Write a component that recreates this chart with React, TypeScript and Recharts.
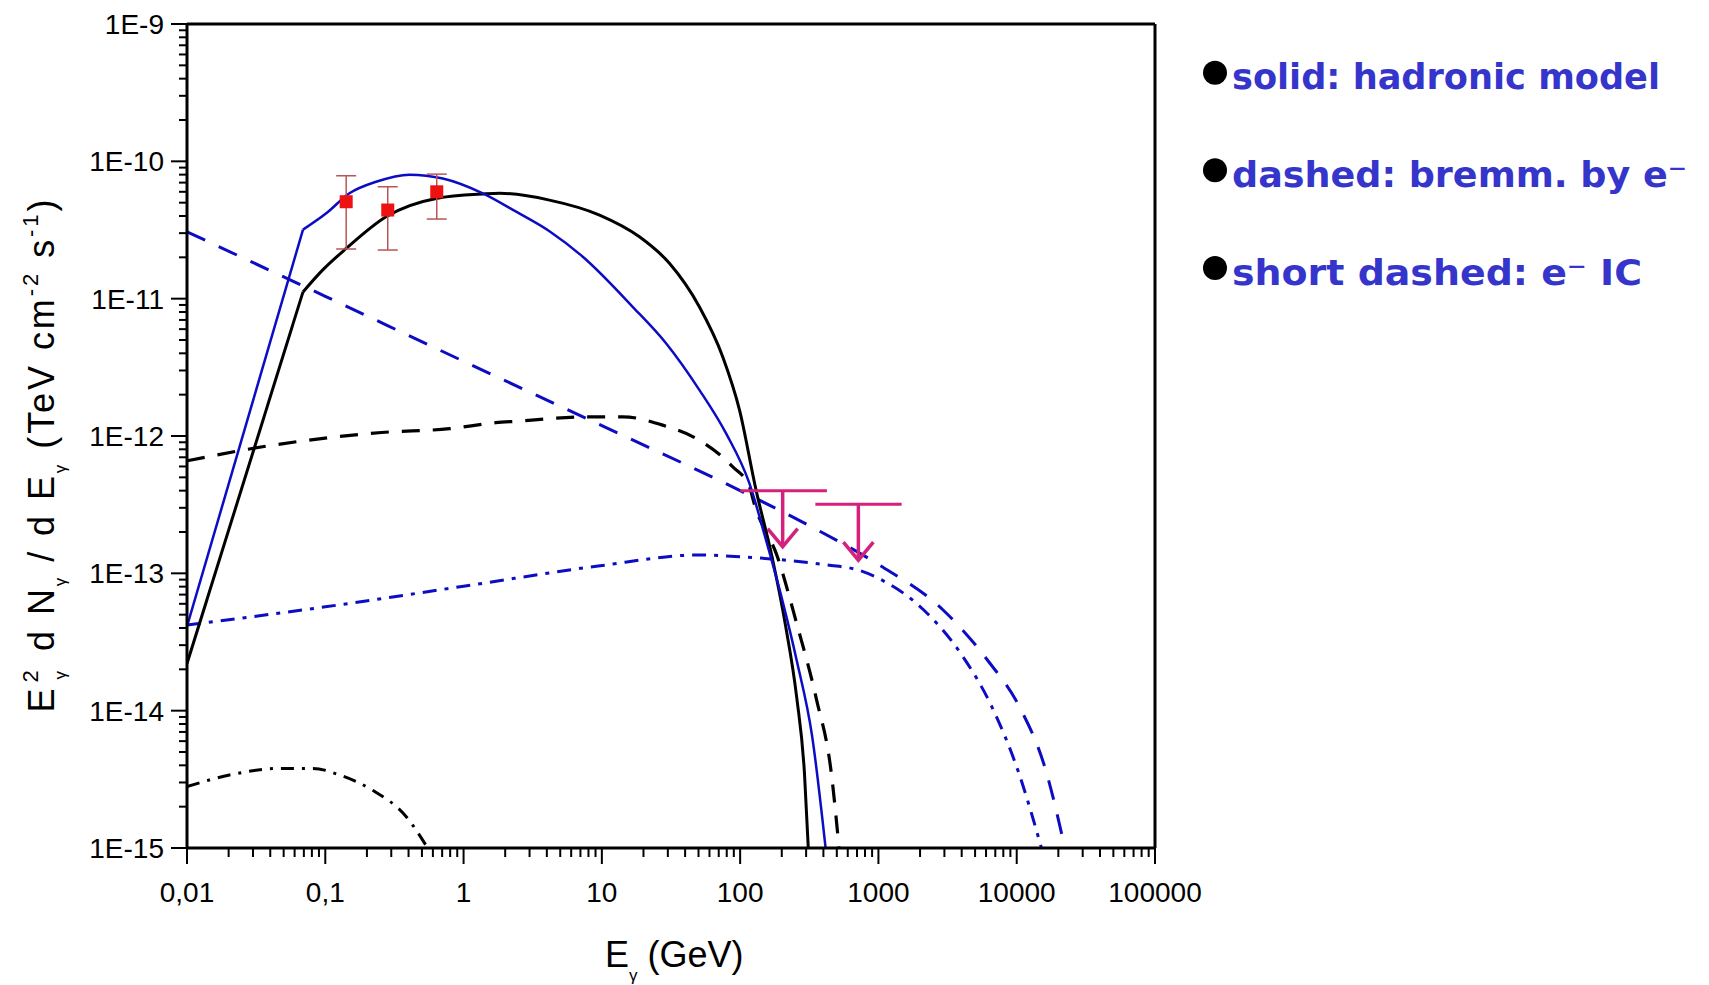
import React from "react";
import {
  ComposedChart,
  Line,
  Scatter,
  ErrorBar,
  XAxis,
  YAxis,
  ReferenceLine,
} from "recharts";

// energies in GeV, fluxes E^2 dN/dE in TeV cm^-2 s^-1

// hadronic model, black solid
const hadronicAE = [0.01, 0.069, 0.0959, 0.1416, 0.275, 0.634, 1.377, 1.82, 4.18, 9.62, 18.7, 30.8, 50.8, 74.8, 98.9, 130.6, 170, 212, 257, 292, 311];
const hadronicAFlux = [2.2e-14, 1.12e-11, 1.62e-11, 2.32e-11, 3.95e-11, 5.37e-11, 5.78e-11, 5.85e-11, 5.22e-11, 4.06e-11, 2.82e-11, 1.81e-11, 8.7e-12, 3.78e-12, 1.55e-12, 4.0e-13, 1.32e-13, 4.27e-14, 1.23e-14, 3.47e-15, 1e-15];

// hadronic model, blue solid
const hadronicBE = [0.01, 0.069, 0.1016, 0.1496, 0.2333, 0.4064, 0.708, 1.377, 2.4, 4.18, 7.28, 16.7, 29.2, 50.8, 79.3, 116.7, 155, 200, 257, 331, 415];
const hadronicBFlux = [4.1e-14, 3.18e-11, 4.18e-11, 5.85e-11, 7.1e-11, 8.0e-11, 7.5e-11, 5.85e-11, 4.3e-11, 3.1e-11, 2.02e-11, 8.73e-12, 4.72e-12, 2.16e-12, 1.04e-12, 4.52e-13, 1.7e-13, 6.6e-14, 2.3e-14, 6.6e-15, 1e-15];

// bremsstrahlung, black dashed
const bremAE = [0.01, 0.038, 0.255, 0.79, 1.71, 2.4, 8.1, 14.2, 27.5, 50.8, 88.3, 116.7, 127, 186, 257, 355, 457, 519];
const bremAFlux = [6.6e-13, 8.45e-13, 1.06e-12, 1.13e-12, 1.25e-12, 1.28e-12, 1.38e-12, 1.38e-12, 1.2e-12, 9.3e-13, 5.97e-13, 4.27e-13, 3.16e-13, 1.32e-13, 4.27e-14, 1.23e-14, 3.47e-15, 1e-15];

// bremsstrahlung, blue dashed
const bremBE = [0.01, 0.1, 1, 10, 100, 331, 1000, 2884, 6237, 10400, 16200, 22300];
const bremBFlux = [3.07e-11, 1.04e-11, 3.5e-12, 1.19e-12, 4.0e-13, 2.17e-13, 1.16e-13, 5.5e-14, 2.29e-14, 1.08e-14, 3.7e-15, 1e-15];

// inverse Compton, blue dash-dot
const icBE = [0.01, 0.1, 1, 9.4, 50, 100, 427, 708, 1000, 2090, 3980, 6600, 10400, 15100];
const icBFlux = [4.2e-14, 5.7e-14, 8.05e-14, 1.13e-13, 1.36e-13, 1.32e-13, 1.15e-13, 1.06e-13, 9.2e-14, 5.5e-14, 2.57e-14, 1.07e-14, 3.47e-15, 1e-15];

// inverse Compton, black dash-dot
const icAE = [0.01, 0.0203, 0.0467, 0.0813, 0.127, 0.22, 0.385, 0.55];
const icAFlux = [2.8e-15, 3.4e-15, 3.8e-15, 3.8e-15, 3.4e-15, 2.63e-15, 1.69e-15, 1e-15];

// measured points with 1 sigma range
const pointsE = [0.1416, 0.283, 0.64];
const pointsFlux = [5.08e-11, 4.42e-11, 6.0e-11];
const pointsHigh = [7.85e-11, 6.53e-11, 8.07e-11];
const pointsLow = [2.3e-11, 2.26e-11, 3.8e-11];

// upper limits with energy bins
const limitE = [203, 716];
const limitFlux = [4.0e-13, 3.19e-13];
const limitEMin = [100, 350];
const limitEMax = [424, 1472];

const xMajorTicks = [0.01, 0.1, 1, 10, 100, 1000, 10000, 100000];
const xTickLabels = ["0,01", "0,1", "1", "10", "100", "1000", "10000", "100000"];
const yMajorTicks = [1e-15, 1e-14, 1e-13, 1e-12, 1e-11, 1e-10, 1e-9];
const yTickLabels = ["1E-15", "1E-14", "1E-13", "1E-12", "1E-11", "1E-10", "1E-9"];

const legendRows = [
  { text: "solid: hadronic model", width: 428 },
  { text: "dashed: bremm. by e⁻", width: 455 },
  { text: "short dashed: e⁻ IC", width: 410 },
];

const BLUE = "#0c0cc4";
const LIMIT = "#d4217c";
const AXIS_FONT = "Arial, 'Liberation Sans', sans-serif";

const toRows = (es: number[], fs: number[]) => es.map((e, i) => ({ e, f: fs[i] }));

const withMinors = (majors: number[]) => {
  const out: number[] = [];
  majors.forEach((m, i) => {
    out.push(m);
    if (i < majors.length - 1) for (let k = 2; k <= 9; k++) out.push(m * k);
  });
  return out;
};

const xTicks = withMinors(xMajorTicks);
const yTicks = withMinors(yMajorTicks);

const majorIndex = (majors: number[], v: number) =>
  majors.findIndex((m) => Math.abs(Math.log10(m) - Math.log10(v)) < 1e-6);

const hadronicA = toRows(hadronicAE, hadronicAFlux);
const hadronicB = toRows(hadronicBE, hadronicBFlux);
const bremA = toRows(bremAE, bremAFlux);
const bremB = toRows(bremBE, bremBFlux);
const icA = toRows(icAE, icAFlux);
const icB = toRows(icBE, icBFlux);

// the solid curves rise in a straight line up to a sharp kink, then bend smoothly
const KINK = 1;

const points = pointsE.map((e, i) => ({
  e,
  f: pointsFlux[i],
  err: [pointsFlux[i] - pointsLow[i], pointsHigh[i] - pointsFlux[i]],
}));

const limits = limitE.map((e, i) => ({
  e,
  f: limitFlux[i],
  ex: [e - limitEMin[i], limitEMax[i] - e],
}));

const XTick = (props: any) => {
  const { x, y, payload } = props;
  const idx = majorIndex(xMajorTicks, payload.value);
  const major = idx >= 0;
  return (
    <g>
      <line x1={x} x2={x} y1={y} y2={y + (major ? 16 : 9)} stroke="#000" strokeWidth={2} />
      {major && (
        <text x={x} y={y + 54} textAnchor="middle" fontSize={28} fontFamily={AXIS_FONT} fill="#000">
          {xTickLabels[idx]}
        </text>
      )}
    </g>
  );
};

const YTick = (props: any) => {
  const { x, y, payload } = props;
  const idx = majorIndex(yMajorTicks, payload.value);
  const major = idx >= 0;
  return (
    <g>
      <line x1={x} x2={x - (major ? 16 : 8)} y1={y} y2={y} stroke="#000" strokeWidth={2} />
      {major && (
        <text x={x - 23} y={y + 10} textAnchor="end" fontSize={28} fontFamily={AXIS_FONT} fill="#000">
          {yTickLabels[idx]}
        </text>
      )}
    </g>
  );
};

const PointMarker = (props: any) => (
  <rect x={props.cx - 6.5} y={props.cy - 6.5} width={13} height={13} fill="#ee1111" />
);

// downward arrow hanging from each upper limit
const LimitArrow = (props: any) => {
  const { cx, cy } = props;
  return (
    <g stroke={LIMIT} strokeWidth={3.5} fill="none">
      <line x1={cx} y1={cy} x2={cx} y2={cy + 56} />
      <polyline points={`${cx - 15},${cy + 38} ${cx},${cy + 56} ${cx + 15},${cy + 38}`} />
    </g>
  );
};

export default function App() {
  return (
    <div style={{ position: "absolute", left: 0, top: 0, width: 1709, height: 985, background: "#fff" }}>
      <ComposedChart width={1709} height={985} margin={{ top: 24, right: 554, bottom: 0, left: 0 }}>
        <XAxis
          type="number"
          dataKey="e"
          scale="log"
          domain={[0.01, 100000]}
          allowDataOverflow
          ticks={xTicks}
          interval={0}
          tick={XTick}
          tickLine={false}
          tickSize={0}
          tickMargin={0}
          axisLine={{ stroke: "#000", strokeWidth: 3 }}
          height={137}
        />
        <YAxis
          type="number"
          dataKey="f"
          scale="log"
          domain={[1e-15, 1e-9]}
          allowDataOverflow
          ticks={yTicks}
          interval={0}
          tick={YTick}
          tickLine={false}
          tickSize={0}
          tickMargin={0}
          axisLine={{ stroke: "#000", strokeWidth: 3 }}
          width={187}
        />
        {/* closing frame on top and right */}
        <ReferenceLine y={1e-9} stroke="#000" strokeWidth={3} />
        <ReferenceLine x={100000} stroke="#000" strokeWidth={3} />

        <Line data={icA} dataKey="f" type="monotone" dot={false} stroke="#000" strokeWidth={3} strokeDasharray="13 8 3 8" isAnimationActive={false} />
        <Line data={icB} dataKey="f" type="monotone" dot={false} stroke={BLUE} strokeWidth={3} strokeDasharray="14 8 4 8" isAnimationActive={false} />
        <Line data={bremA} dataKey="f" type="monotone" dot={false} stroke="#000" strokeWidth={3.2} strokeDasharray="18 13" isAnimationActive={false} />
        <Line data={bremB} dataKey="f" type="monotone" dot={false} stroke={BLUE} strokeWidth={3} strokeDasharray="20 15" isAnimationActive={false} />

        <Line data={hadronicA.slice(0, KINK + 1)} dataKey="f" type="linear" dot={false} stroke="#000" strokeWidth={3} isAnimationActive={false} />
        <Line data={hadronicA.slice(KINK)} dataKey="f" type="monotone" dot={false} stroke="#000" strokeWidth={3} isAnimationActive={false} />
        <Line data={hadronicB.slice(0, KINK + 1)} dataKey="f" type="linear" dot={false} stroke={BLUE} strokeWidth={2.5} isAnimationActive={false} />
        <Line data={hadronicB.slice(KINK)} dataKey="f" type="monotone" dot={false} stroke={BLUE} strokeWidth={2.5} isAnimationActive={false} />

        <Scatter data={points} dataKey="f" shape={PointMarker} isAnimationActive={false}>
          <ErrorBar dataKey="err" direction="y" width={10} stroke="#b85555" strokeWidth={1.5} />
        </Scatter>
        <Scatter data={limits} dataKey="f" shape={LimitArrow} isAnimationActive={false}>
          <ErrorBar dataKey="ex" direction="x" width={0} stroke={LIMIT} strokeWidth={3} />
        </Scatter>
      </ComposedChart>

      <svg width={1709} height={985} style={{ position: "absolute", left: 0, top: 0, pointerEvents: "none" }}>
        {/* axis titles */}
        <text x={605} y={967} fontSize={36} fontFamily={AXIS_FONT} fill="#000">
          E
          <tspan fontSize={17} dy={14}>γ</tspan>
          <tspan dy={-14}> (GeV)</tspan>
        </text>
        <text
          x={54}
          y={456}
          transform="rotate(-90 54 456)"
          textAnchor="middle"
          fontSize={36}
          fontFamily={AXIS_FONT}
          fill="#000"
          textLength={513}
          lengthAdjust="spacing"
        >
          E
          <tspan fontSize={22} dy={-16} dx={3}>2</tspan>
          <tspan fontSize={17} dy={28} dx={-12}>γ</tspan>
          <tspan dy={-12} dx={4}> d N</tspan>
          <tspan fontSize={17} dy={12}>γ</tspan>
          <tspan dy={-12}> / d E</tspan>
          <tspan fontSize={17} dy={12}>γ</tspan>
          <tspan dy={-12}> (TeV cm</tspan>
          <tspan fontSize={22} dy={-16}>-2</tspan>
          <tspan dy={16}> s</tspan>
          <tspan fontSize={22} dy={-16}>-1</tspan>
          <tspan dy={16}>)</tspan>
        </text>

        {/* legend */}
        {legendRows.map((row, i) => (
          <g key={row.text}>
            <circle cx={1215} cy={72.7 + i * 97.6} r={12} fill="#000" />
            <text
              x={1232}
              y={89.3 + i * 97.6}
              fontSize={36}
              fontWeight="bold"
              fontFamily="'Comic Sans MS', 'DejaVu Sans', sans-serif"
              fill="#3535cc"
              textLength={row.width}
              lengthAdjust="spacingAndGlyphs"
            >
              {row.text}
            </text>
          </g>
        ))}
      </svg>
    </div>
  );
}
